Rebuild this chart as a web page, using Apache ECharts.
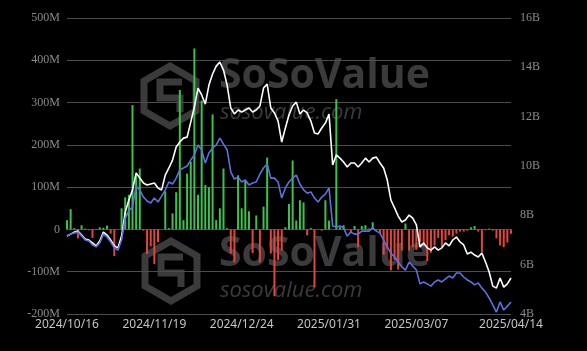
<!DOCTYPE html>
<html>
<head>
<meta charset="utf-8">
<script src="https://cdn.jsdelivr.net/npm/echarts@6/dist/echarts.min.js"></script>
<style>
html,body{margin:0;padding:0;background:#000;}
#chart{width:587px;height:351px;}
</style>
</head>
<body>
<div id="chart"></div>
<script>
// trading days 2024/10/16 .. 2025/04/14
const holidays = ['2024/11/28','2024/12/25','2025/01/01','2025/01/09','2025/01/20','2025/02/17']
const dates = []
function pad(n){ return n < 10 ? '0' + n : '' + n }
let d = new Date(2024, 9, 16)
const end = new Date(2025, 3, 14)
while (d <= end) {
  const s = d.getFullYear() + '/' + pad(d.getMonth() + 1) + '/' + pad(d.getDate())
  if (d.getDay() != 0 && d.getDay() != 6 && holidays.indexOf(s) < 0) dates.push(s)
  d = new Date(d.getFullYear(), d.getMonth(), d.getDate() + 1)
}

// daily net inflow (M)
const netInflow = [
  22, 48, 3, -21, 10, 2, -2, -20, 1, 5,
  4, 9, -10, -63, 0, 50, 76, 82, 294, 132,
  144, -3, -58, -40, -82, -30, 0, 90, 3, 38,
  88, 330, 22, 132, 160, 428, 82, 305, 105, 100,
  272, 22, 50, 144, 3, -57, -78, 128, 50, 116,
  43, -56, 33, -78, 54, 170, -57, -158, -73, -50,
  5, 60, 163, 21, 69, 64, -14, 3, -137, 0,
  -3, 69, 21, 0, 308, 5, 10, -2, -8, 8,
  -42, 8, 10, 2, 17, -3, -9, -60, -45, -97,
  -72, -95, -50, 14, -50, -42, -48, -30, -40, -75,
  -55, -38, -20, -42, -25, -14, -17, -10, -5, -5,
  -3, 5, 8, -5, -54, -2, 2, -3, -21, -38,
  -42, -31, -10
]

// total net assets (B)
const netAssets = [
  7.16, 7.24, 7.32, 7.36, 7.20, 7.04, 7.00, 6.88, 6.76, 6.96,
  7.32, 7.20, 7.00, 6.76, 6.68, 7.16, 8.13, 8.62, 9.03, 9.72,
  9.51, 9.31, 9.23, 9.27, 9.31, 9.11, 9.03, 9.63, 9.92, 10.24,
  10.77, 10.97, 11.13, 11.17, 11.78, 12.39, 13.16, 12.88, 12.51, 13.28,
  13.73, 14.05, 14.21, 13.89, 13.28, 12.35, 12.11, 12.27, 12.19, 12.27,
  12.35, 12.19, 12.27, 12.43, 13.16, 13.32, 12.35, 12.15, 11.82, 10.97,
  11.54, 12.07, 12.43, 12.59, 12.11, 12.27, 12.15, 11.82, 11.34, 11.30,
  11.54, 11.74, 12.11, 10.04, 10.45, 10.32, 10.16, 9.96, 10.12, 10.12,
  9.96, 10.12, 10.32, 10.16, 10.32, 10.36, 10.12, 9.92, 9.43, 8.62,
  8.30, 7.97, 7.73, 7.81, 8.01, 7.89, 7.61, 6.72, 6.88, 6.68,
  6.59, 6.72, 6.59, 6.68, 6.88, 6.76, 7.00, 7.12, 6.92, 6.80,
  6.43, 6.51, 6.39, 6.31, 6.47, 6.11, 5.70, 5.13, 5.05, 5.46,
  5.09, 5.22, 5.46
]

// second line (blue), same right scale
const blueLine = [
  7.16, 7.24, 7.28, 7.32, 7.16, 7.00, 6.96, 6.80, 6.72, 6.88,
  7.24, 7.12, 6.92, 6.68, 6.59, 7.00, 7.89, 8.18, 8.34, 9.19,
  9.03, 8.74, 8.58, 8.50, 8.70, 8.54, 8.78, 9.03, 9.35, 9.27,
  9.51, 9.84, 9.92, 10.00, 10.24, 10.45, 10.85, 10.65, 10.12, 10.53,
  10.73, 10.85, 11.13, 10.89, 10.65, 9.76, 9.47, 9.55, 9.35, 9.43,
  9.23, 9.31, 9.35, 9.67, 9.92, 10.08, 9.51, 9.51, 9.35, 8.70,
  9.11, 9.35, 9.51, 9.63, 9.27, 9.03, 8.90, 8.95, 8.70, 8.54,
  8.74, 8.86, 9.11, 7.57, 7.53, 7.57, 7.49, 7.16, 7.32, 7.24,
  7.24, 7.36, 7.36, 7.36, 7.49, 7.36, 7.28, 7.00, 6.72, 6.47,
  6.31, 6.11, 5.91, 5.78, 6.11, 5.95, 5.78, 5.22, 5.30, 5.22,
  5.13, 5.30, 5.38, 5.30, 5.42, 5.54, 5.46, 5.66, 5.66, 5.50,
  5.38, 5.30, 5.18, 5.26, 5.05, 4.89, 4.65, 4.36, 4.08, 4.49,
  4.16, 4.32, 4.49
]

const labelIdx = [0, 24, 48, 72, 96, 122]
const wmColor = '#3b3b3b'

function hexagon(cx, cy, r){
  const pts = []
  for (let k = 0; k < 6; k++) {
    const a = Math.PI / 3 * k - Math.PI / 2
    pts.push([cx + r * Math.cos(a), cy + r * Math.sin(a)])
  }
  return pts
}
function watermark(cx, cy, ty){
  return [
    { type: 'polygon', z: 0, shape: { points: hexagon(cx, cy, 30) }, style: { fill: 'none', stroke: wmColor, lineWidth: 7 } },
    { type: 'polyline', z: 0, shape: { points: [[cx + 12, cy - 14], [cx - 10, cy - 14], [cx - 10, cy + 2], [cx + 10, cy + 2], [cx + 10, cy + 16]] }, style: { fill: 'none', stroke: wmColor, lineWidth: 7 } },
    { type: 'text', z: 0, left: 219, top: ty, style: { text: 'SoSoValue', fill: wmColor, font: 'bold 41px "Open Sans", sans-serif' } },
    { type: 'text', z: 0, left: 220, top: ty + 46, style: { text: 'sosovalue.com', fill: wmColor, font: 'italic 22px "Open Sans", sans-serif' } }
  ]
}

const chart = echarts.init(document.getElementById('chart'), null, { renderer: 'canvas' })
chart.setOption({
  backgroundColor: '#000',
  animation: false,
  graphic: watermark(170, 96, 56).concat(watermark(171, 271, 234)),
  grid: { left: 67, right: 76, top: 18, bottom: 37 },
  xAxis: {
    type: 'category',
    data: dates,
    boundaryGap: false,
    axisLine: { show: false },
    axisTick: { show: false },
    axisLabel: {
      color: '#c4c4c4',
      fontFamily: 'Noto Sans',
      fontSize: 12,
      margin: 5,
      interval: (i) => labelIdx.indexOf(i) >= 0
    },
    splitLine: { show: false }
  },
  yAxis: [
    {
      type: 'value',
      min: -200,
      max: 500,
      interval: 100,
      axisLine: { show: false },
      axisTick: { show: false },
      axisLabel: {
        color: '#8a8a8a',
        fontFamily: 'Liberation Serif',
        fontSize: 12,
        margin: 7,
        formatter: (v) => v == 0 ? '0' : v + 'M'
      },
      splitLine: { lineStyle: { color: '#4d4d4d', width: 1 } }
    },
    {
      type: 'value',
      min: 4,
      max: 16,
      interval: 2,
      axisLine: { show: false },
      axisTick: { show: false },
      axisLabel: {
        color: '#8a8a8a',
        fontFamily: 'Liberation Serif',
        fontSize: 12,
        margin: 9,
        formatter: (v) => v + 'B'
      },
      splitLine: { show: false }
    }
  ],
  series: [
    {
      type: 'bar',
      data: netInflow,
      barWidth: 2,
      itemStyle: {
        color: (p) => p.value >= 0 ? '#3ec04f' : '#e2473d'
      }
    },
    {
      type: 'line',
      yAxisIndex: 1,
      data: netAssets,
      symbol: 'none',
      lineStyle: { color: '#ffffff', width: 1.6 }
    },
    {
      type: 'line',
      yAxisIndex: 1,
      data: blueLine,
      symbol: 'none',
      lineStyle: { color: '#5b72de', width: 1.6 }
    }
  ]
})
</script>
</body>
</html>
